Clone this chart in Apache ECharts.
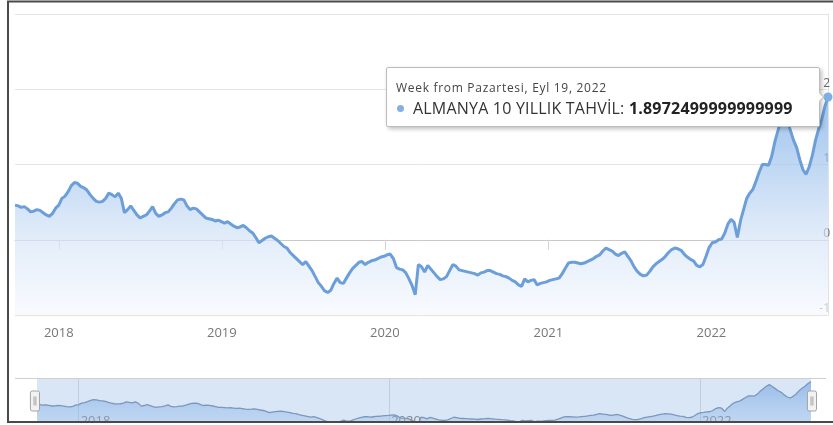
<!DOCTYPE html>
<html>
<head>
<meta charset="utf-8">
<script src="https://cdn.jsdelivr.net/npm/echarts@6/dist/echarts.min.js"></script>
<style>
  html, body { margin: 0; padding: 0; background: #fff; }
  #chart { width: 833px; height: 425px; }
</style>
</head>
<body>
<div id="chart"></div>
<script>
// German 10-year Bund yield, weekly averages (%)
const seriesName = 'ALMANYA 10 YILLIK TAHVİL';
const firstWeek = [2017, 8, 25]; // Monday, 25 Sep 2017
const yieldValues = [
  0.46, 0.45, 0.43, 0.44, 0.41, 0.37, 0.38, 0.40, 0.39, 0.36,
  0.33, 0.31, 0.35, 0.42, 0.46, 0.55, 0.58, 0.64, 0.72, 0.76,
  0.75, 0.71, 0.69, 0.66, 0.60, 0.55, 0.51, 0.50, 0.51, 0.55,
  0.62, 0.60, 0.57, 0.62, 0.55, 0.36, 0.40, 0.45, 0.39, 0.33,
  0.29, 0.31, 0.33, 0.38, 0.44, 0.35, 0.31, 0.33, 0.36, 0.37,
  0.42, 0.48, 0.53, 0.54, 0.53, 0.45, 0.40, 0.42, 0.41, 0.37,
  0.33, 0.29, 0.28, 0.27, 0.25, 0.26, 0.24, 0.22, 0.24, 0.21,
  0.18, 0.16, 0.17, 0.19, 0.16, 0.12, 0.09, 0.03, -0.04, -0.01,
  0.02, 0.04, 0.05, 0.02, -0.01, -0.05, -0.09, -0.11, -0.17, -0.21,
  -0.25, -0.29, -0.33, -0.29, -0.35, -0.41, -0.49, -0.57, -0.62, -0.68,
  -0.70, -0.67, -0.58, -0.51, -0.57, -0.58, -0.51, -0.44, -0.38, -0.34,
  -0.30, -0.29, -0.33, -0.30, -0.28, -0.27, -0.25, -0.23, -0.22, -0.20,
  -0.19, -0.25, -0.37, -0.39, -0.40, -0.44, -0.52, -0.61, -0.73, -0.33,
  -0.36, -0.43, -0.34, -0.39, -0.44, -0.49, -0.53, -0.52, -0.49, -0.41,
  -0.33, -0.35, -0.40, -0.41, -0.42, -0.43, -0.44, -0.45, -0.47, -0.44,
  -0.43, -0.41, -0.41, -0.43, -0.45, -0.46, -0.48, -0.49, -0.51, -0.54,
  -0.56, -0.60, -0.62, -0.52, -0.56, -0.54, -0.53, -0.60, -0.58, -0.57,
  -0.56, -0.54, -0.53, -0.52, -0.51, -0.45, -0.38, -0.31, -0.30, -0.30,
  -0.31, -0.32, -0.31, -0.29, -0.27, -0.25, -0.22, -0.20, -0.15, -0.11,
  -0.13, -0.15, -0.19, -0.21, -0.18, -0.16, -0.22, -0.28, -0.36, -0.42,
  -0.46, -0.48, -0.47, -0.42, -0.36, -0.32, -0.29, -0.26, -0.22, -0.17,
  -0.13, -0.11, -0.12, -0.14, -0.19, -0.23, -0.26, -0.28, -0.34, -0.36,
  -0.33, -0.22, -0.10, -0.04, -0.03, 0.00, 0.01, 0.09, 0.21, 0.27,
  0.23, 0.03, 0.25, 0.40, 0.55, 0.62, 0.67, 0.78, 0.90, 1.00,
  1.00, 0.99, 1.11, 1.30, 1.45, 1.60, 1.70, 1.58, 1.45, 1.32,
  1.22, 1.06, 0.93, 0.87, 0.97, 1.12, 1.32, 1.47, 1.60, 1.77,
  1.8972499999999999
];
const yearTicks = [2018, 2019, 2020, 2021, 2022];
const navigatorYears = [2018, 2020, 2022];
const yRange = [-1, 3];
const monthNamesTr = ['Oca', 'Şub', 'Mar', 'Nis', 'May', 'Haz', 'Tem', 'Ağu', 'Eyl', 'Eki', 'Kas', 'Ara'];
const dayNamesTr = ['Pazar', 'Pazartesi', 'Salı', 'Çarşamba', 'Perşembe', 'Cuma', 'Cumartesi'];

// x values are millisecond timestamps of each week's Monday
const weekStarts = yieldValues.map((_, i) =>
  new Date(firstWeek[0], firstWeek[1], firstWeek[2] + 7 * i).getTime());
const points = yieldValues.map((v, i) => [weekStarts[i], v]);
const lastIndex = points.length - 1;
const xMin = weekStarts[0];
const xMax = weekStarts[lastIndex];
const yearStart = y => new Date(y, 0, 1).getTime();
const yearLabel = v => String(new Date(v).getFullYear());
const font = '"Open Sans", "Noto Sans", sans-serif';

const chart = echarts.init(document.getElementById('chart'), null, { renderer: 'canvas' });

chart.setOption({
  animation: false,
  textStyle: { fontFamily: font },
  grid: [
    { left: 15, right: 5, top: 14, bottom: 110, outerBoundsMode: 'none' },
    { left: 37, right: 22, top: 379, bottom: -3, show: true, backgroundColor: '#d9e6f6', borderWidth: 0, outerBoundsMode: 'none' }
  ],
  xAxis: [
    {
      type: 'value', gridIndex: 0, min: xMin, max: xMax, scale: true,
      axisLine: { lineStyle: { color: '#c9c9c9', width: 1 } },
      axisTick: { show: true, length: 10, lineStyle: { color: '#d3d3d3' }, customValues: yearTicks.map(yearStart) },
      axisLabel: { customValues: yearTicks.map(yearStart), formatter: yearLabel, color: '#777', fontSize: 13, margin: 12, fontFamily: font },
      splitLine: { show: false }
    },
    {
      type: 'value', gridIndex: 1, min: xMin, max: xMax, scale: true,
      axisLine: { show: false },
      axisTick: { show: false, customValues: navigatorYears.map(yearStart) },
      axisLabel: { inside: true, customValues: navigatorYears.map(yearStart), formatter: yearLabel, align: 'left', padding: [0, 0, 0, 2], margin: 0, color: '#888', fontSize: 13, fontFamily: font },
      splitLine: { show: true, lineStyle: { color: 'rgba(80,100,130,0.18)', width: 1 } }
    }
  ],
  yAxis: [
    {
      type: 'value', gridIndex: 0, position: 'right', min: yRange[0], max: yRange[1], interval: 1,
      axisLine: { show: true, lineStyle: { color: '#e2e2e2' } },
      axisTick: { show: false },
      splitLine: { lineStyle: { color: '#e4e4e4' } },
      axisLabel: { showMaxLabel: false, align: 'right', verticalAlign: 'bottom', margin: 2, color: '#666', fontSize: 12, fontFamily: font }
    },
    { type: 'value', gridIndex: 1, min: -1, max: 2.05, show: false }
  ],
  dataZoom: [{
    type: 'slider', xAxisIndex: 0, start: 0, end: 100,
    left: 33, right: 21, top: 379, height: 44,
    showDetail: false, showDataShadow: false, brushSelect: false, zoomLock: true,
    moveHandleSize: 0,
    backgroundColor: 'rgba(0,0,0,0)', fillerColor: 'rgba(0,0,0,0)', borderColor: 'rgba(0,0,0,0)',
    handleIcon: 'path://M2,0 H8 Q10,0 10,2 V20 Q10,22 8,22 H2 Q0,22 0,20 V2 Q0,0 2,0 Z M4,6 V16 M6,6 V16',
    handleSize: 20,
    handleStyle: { color: '#f2f2f2', borderColor: '#a3a3a3', borderWidth: 1 },
    emphasis: { handleStyle: { color: '#f2f2f2', borderColor: '#a3a3a3' } }
  }],
  tooltip: {
    trigger: 'item', triggerOn: 'none', position: 'left', alwaysShowContent: true,
    showDelay: 0, transitionDuration: 0,
    backgroundColor: '#fff', borderColor: '#bcbcbc', borderWidth: 1,
    padding: [10, 26, 8, 9],
    textStyle: { fontFamily: font },
    extraCssText: 'box-shadow: 2px 2px 4px rgba(0,0,0,0.25); border-radius: 2px; margin-left: 6px;',
    formatter: p => {
      const d = new Date(p.value[0]);
      const head = 'Week from ' + dayNamesTr[d.getDay()] + ', ' + monthNamesTr[d.getMonth()] + ' ' + d.getDate() + ', ' + d.getFullYear();
      return '<div style="font-family:' + font.replace(/"/g, "'") + '">' +
        '<div style="font-size:12px;letter-spacing:0.7px;color:#444;line-height:20px;white-space:nowrap">' + head + '</div>' +
        '<div style="font-size:16px;letter-spacing:0.2px;color:#333;line-height:20px;white-space:nowrap">' +
        '<span style="display:inline-block;width:7px;height:7px;border-radius:50%;background:#80b1e2;margin:0 9px 3px 1px;vertical-align:middle"></span>' +
        p.seriesName + ': <b style="color:#222">' + p.value[1] + '</b></div></div>';
    }
  },
  series: [
    {
      type: 'line', name: seriesName, xAxisIndex: 0, yAxisIndex: 0,
      data: points,
      showSymbol: true, showAllSymbol: true, clip: false,
      symbol: (val, params) => (params.dataIndex === lastIndex ? 'circle' : 'none'),
      symbolSize: 9,
      itemStyle: { color: '#7eb0e3' },
      lineStyle: { width: 3, color: '#6c9fda' },
      areaStyle: {
        origin: 'start',
        color: new echarts.graphic.LinearGradient(0, 90, 0, 315, [
          { offset: 0, color: 'rgb(112,166,226)' },
          { offset: 0.45, color: 'rgb(182,209,241)' },
          { offset: 0.67, color: 'rgb(215,229,247)' },
          { offset: 1, color: 'rgb(245,248,253)' }
        ], true)
      },
      emphasis: { disabled: true },
      z: 3
    },
    {
      type: 'line', name: seriesName, xAxisIndex: 1, yAxisIndex: 1,
      data: points, showSymbol: false, silent: true, tooltip: { show: false },
      lineStyle: { width: 1.3, color: '#7b97bd' },
      areaStyle: {
        origin: 'start',
        color: new echarts.graphic.LinearGradient(0, 0, 0, 1, [
          { offset: 0, color: 'rgba(95,150,222,0.75)' },
          { offset: 1, color: 'rgba(150,190,236,0.45)' }
        ])
      }
    }
  ],
  graphic: [
    { type: 'line', shape: { x1: 15, y1: 378.5, x2: 826, y2: 378.5 }, style: { stroke: '#cfcfcf', lineWidth: 1 }, z: 50 },
    { type: 'rect', shape: { x: 0, y: 422, width: 833, height: 4 }, style: { fill: '#fff' }, z: 100 },
    { type: 'rect', shape: { x: 8, y: 1.5, width: 840, height: 420.5 }, style: { fill: 'none', stroke: '#4a4a4a', lineWidth: 2 }, z: 101 }
  ]
});

function showLastWeek() {
  chart.dispatchAction({ type: 'showTip', seriesIndex: 0, dataIndex: lastIndex });
}
showLastWeek();
setTimeout(showLastWeek, 30);
</script>
</body>
</html>
